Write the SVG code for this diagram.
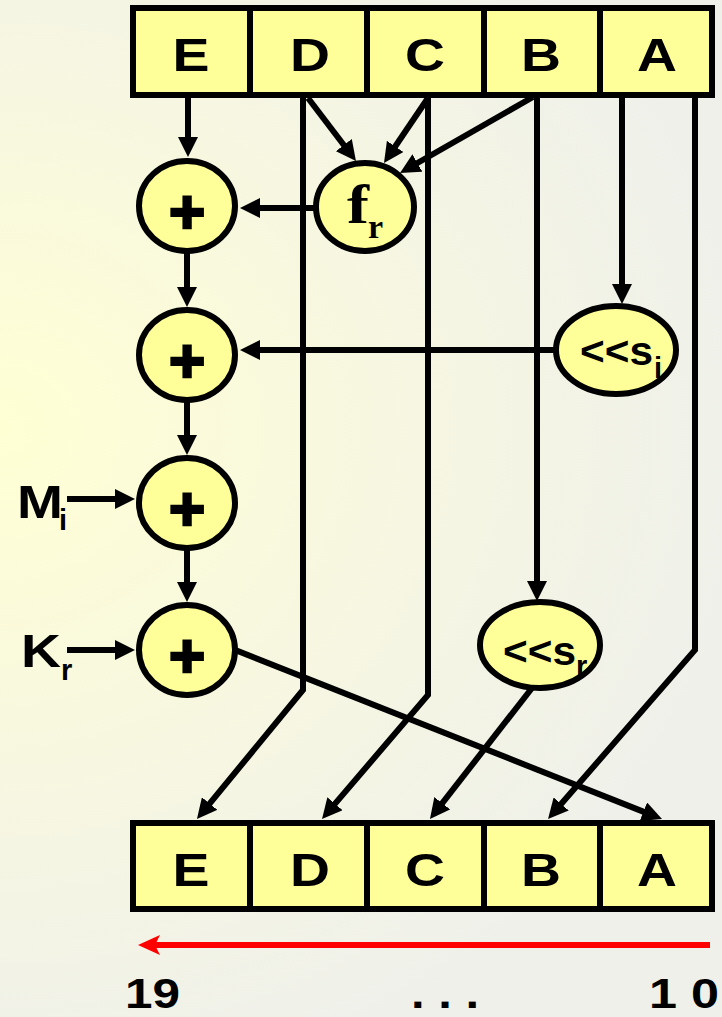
<svg xmlns="http://www.w3.org/2000/svg" width="722" height="1017" viewBox="0 0 722 1017">
  <defs>
    <radialGradient id="bg" gradientUnits="userSpaceOnUse" cx="0" cy="430" r="760" gradientTransform="translate(0,430) scale(1,0.9) translate(0,-430)">
      <stop offset="0" stop-color="#ffffd4"/>
      <stop offset="0.55" stop-color="#f6f6e2"/>
      <stop offset="1" stop-color="#eff0ea"/>
    </radialGradient>
    <marker id="arrow" markerUnits="userSpaceOnUse" markerWidth="20" markerHeight="20" refX="10" refY="10" orient="auto">
      <path d="M0,0 L20,10 L0,20 z" fill="#000"/>
    </marker>
    <marker id="arrow-red" markerUnits="userSpaceOnUse" markerWidth="24" markerHeight="24" refX="12" refY="12" orient="auto">
      <path d="M2,2 L24,12 L2,22 L7,12 z" fill="#ff0000"/>
    </marker>
    <style>
      .cell { fill: #ffff99; stroke: #000; stroke-width: 6; }
      .op { fill: #ffff99; stroke: #000; stroke-width: 6; }
      .lbl { font-family: "Liberation Sans", Arial, sans-serif; font-weight: bold; fill: #000; }
      .reg { font-size: 47px; text-anchor: middle; }
      .plus { font-size: 62px; text-anchor: middle; stroke: #000; stroke-width: 2.5; }
      .shift { font-size: 40px; }
      .sub { font-size: 29px; }
      .serif { font-family: "Liberation Serif", "Times New Roman", serif; font-weight: bold; fill: #000; }
      .wire { fill: none; stroke: #000; stroke-width: 6; stroke-linejoin: miter; }
      .wire-a { fill: none; stroke: #000; stroke-width: 6; marker-end: url(#arrow); }
    </style>
  </defs>

  <rect x="0" y="0" width="722" height="1017" fill="url(#bg)"/>

  <!-- data paths -->
  <g id="connectors">
    <!-- E into first adder -->
    <line class="wire-a" x1="188" y1="98" x2="188" y2="147"/>
    <!-- D, C, B into f -->
    <line class="wire-a" x1="308" y1="98" x2="349.9" y2="153"/>
    <line class="wire-a" x1="428" y1="98" x2="389.6" y2="154.7"/>
    <line class="wire-a" x1="533" y1="97" x2="408.7" y2="168"/>
    <!-- D passes through to E -->
    <polyline class="wire-a" points="303,98 303,690 203.3,811.3"/>
    <!-- C passes through to D -->
    <polyline class="wire-a" points="428,98 428,695 328.5,811.4"/>
    <!-- B into rotate by s_r -->
    <line class="wire-a" x1="537" y1="98" x2="537" y2="591"/>
    <!-- A into rotate by s_i -->
    <line class="wire-a" x1="622" y1="98" x2="622" y2="294"/>
    <!-- A passes through to B -->
    <polyline class="wire-a" points="695,98 695,650 554.6,811.5"/>
    <!-- f into first adder -->
    <line class="wire-a" x1="316" y1="208" x2="250" y2="208"/>
    <!-- adder chain -->
    <line class="wire-a" x1="187" y1="253" x2="187" y2="297"/>
    <line class="wire-a" x1="556" y1="350" x2="250" y2="350"/>
    <line class="wire-a" x1="187" y1="400" x2="187" y2="445"/>
    <line class="wire-a" x1="67" y1="499" x2="125" y2="499"/>
    <line class="wire-a" x1="187" y1="550" x2="187" y2="592"/>
    <line class="wire-a" x1="67" y1="650" x2="125" y2="650"/>
    <!-- sum into new A -->
    <line class="wire-a" x1="200" y1="636" x2="652.7" y2="815.4"/>
    <!-- rotated B into new C -->
    <line class="wire-a" x1="532" y1="688" x2="436.1" y2="811.1"/>
    <!-- bit order -->
    <line x1="710" y1="945" x2="150" y2="945" stroke="#ff0000" stroke-width="6" marker-end="url(#arrow-red)"/>
  </g>

  <!-- input register -->
  <g id="reg-in">
    <rect class="cell" x="133" y="8" width="117" height="87"/>
    <rect class="cell" x="250" y="8" width="117" height="87"/>
    <rect class="cell" x="367" y="8" width="117" height="87"/>
    <rect class="cell" x="484" y="8" width="116" height="87"/>
    <rect class="cell" x="600" y="8" width="112" height="87"/>
    <text class="lbl reg" x="191" y="71" textLength="37" lengthAdjust="spacingAndGlyphs">E</text>
    <text class="lbl reg" x="310" y="71" textLength="40" lengthAdjust="spacingAndGlyphs">D</text>
    <text class="lbl reg" x="425" y="71" textLength="40" lengthAdjust="spacingAndGlyphs">C</text>
    <text class="lbl reg" x="541" y="71" textLength="40" lengthAdjust="spacingAndGlyphs">B</text>
    <text class="lbl reg" x="657" y="71" textLength="40" lengthAdjust="spacingAndGlyphs">A</text>
  </g>

  <!-- output register -->
  <g id="reg-out">
    <rect class="cell" x="133" y="823" width="117" height="86"/>
    <rect class="cell" x="250" y="823" width="117" height="86"/>
    <rect class="cell" x="367" y="823" width="117" height="86"/>
    <rect class="cell" x="484" y="823" width="116" height="86"/>
    <rect class="cell" x="600" y="823" width="112" height="86"/>
    <text class="lbl reg" x="191" y="886" textLength="37" lengthAdjust="spacingAndGlyphs">E</text>
    <text class="lbl reg" x="310" y="886" textLength="40" lengthAdjust="spacingAndGlyphs">D</text>
    <text class="lbl reg" x="425" y="886" textLength="40" lengthAdjust="spacingAndGlyphs">C</text>
    <text class="lbl reg" x="541" y="886" textLength="40" lengthAdjust="spacingAndGlyphs">B</text>
    <text class="lbl reg" x="657" y="886" textLength="40" lengthAdjust="spacingAndGlyphs">A</text>
  </g>

  <!-- adders -->
  <g id="add1">
    <ellipse class="op" cx="187" cy="206" rx="48" ry="45"/>
    <text class="lbl plus" x="187" y="233">+</text>
  </g>
  <g id="add2">
    <ellipse class="op" cx="187" cy="355" rx="48" ry="45"/>
    <text class="lbl plus" x="187" y="382">+</text>
  </g>
  <g id="add3">
    <ellipse class="op" cx="187" cy="503" rx="48" ry="45"/>
    <text class="lbl plus" x="187" y="530">+</text>
  </g>
  <g id="add4">
    <ellipse class="op" cx="187" cy="650" rx="48" ry="45"/>
    <text class="lbl plus" x="187" y="677">+</text>
  </g>

  <!-- round function -->
  <g id="f">
    <ellipse class="op" cx="365" cy="207" rx="49" ry="44"/>
    <text class="serif" x="347" y="223" font-size="54" textLength="22" lengthAdjust="spacingAndGlyphs">f</text>
    <text class="serif" x="368" y="238" font-size="34">r</text>
  </g>

  <!-- rotations -->
  <g id="rot-si">
    <ellipse class="op" cx="616" cy="350" rx="60" ry="44"/>
    <text class="lbl shift" x="580" y="365" textLength="73" lengthAdjust="spacingAndGlyphs">&lt;&lt;s</text>
    <text class="lbl sub" x="654" y="378">i</text>
  </g>
  <g id="rot-sr">
    <ellipse class="op" cx="540" cy="645" rx="60" ry="43"/>
    <text class="lbl shift" x="503" y="665" textLength="73" lengthAdjust="spacingAndGlyphs">&lt;&lt;s</text>
    <text class="lbl sub" x="576" y="676">r</text>
  </g>

  <!-- external inputs -->
  <g id="in-m">
    <text class="lbl" x="17" y="518" font-size="46" textLength="46" lengthAdjust="spacingAndGlyphs">M</text>
    <text class="lbl sub" x="59" y="530">i</text>
  </g>
  <g id="in-k">
    <text class="lbl" x="21" y="667" font-size="46" textLength="40" lengthAdjust="spacingAndGlyphs">K</text>
    <text class="lbl sub" x="61" y="680">r</text>
  </g>

  <!-- bit positions -->
  <g id="bits">
    <text class="lbl" x="125" y="1008" font-size="42" textLength="55" lengthAdjust="spacingAndGlyphs">19</text>
    <text class="lbl" x="445" y="1008" font-size="42" text-anchor="middle" textLength="68" lengthAdjust="spacingAndGlyphs">. . .</text>
    <text class="lbl" x="719" y="1008" font-size="42" text-anchor="end" textLength="70" lengthAdjust="spacingAndGlyphs">1 0</text>
  </g>
</svg>
